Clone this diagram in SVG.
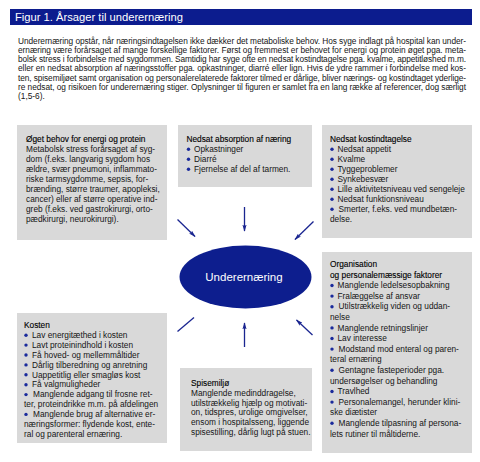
<svg xmlns="http://www.w3.org/2000/svg" width="480" height="462" viewBox="0 0 480 462">
<defs>
<style>
.t{font-family:"Liberation Sans",Arial,sans-serif;font-size:8.3px;fill:#151515}
.h{font-family:"Liberation Sans",Arial,sans-serif;font-size:8.3px;fill:#000;stroke:#000;stroke-width:0.12}
.box{fill:#d9d9d9}
.dot{fill:#1a2a9c}
.arr{stroke:#1a2590;stroke-width:1.3;fill:none}
</style>
<marker id="ah" viewBox="0 0 10 6" refX="9" refY="3" markerWidth="7" markerHeight="4.2" markerUnits="userSpaceOnUse" orient="auto">
<path d="M0,0 L10,3 L0,6 L2,3 z" fill="#1a2590"/>
</marker>
</defs>
<rect width="480" height="462" fill="#fff"/>

<g id="title">
<rect x="10" y="9" width="462" height="16" fill="#0c1c8e"/>
<text x="15" y="21" style="font-family:'Liberation Sans',Arial,sans-serif;font-size:11.2px;fill:#fff">Figur 1. Årsager til underernæring</text>
</g>

<g id="intro" class="t">
<text class="t" x="18" y="43.5" textLength="448">Underernæring opstår, når næringsindtagelsen ikke dækker det metaboliske behov. Hos syge indlagt på hospital kan under-</text>
<text class="t" x="18" y="52.8" textLength="448">ernæring være forårsaget af mange forskellige faktorer. Først og fremmest er behovet for energi og protein øget pga. meta-</text>
<text class="t" x="18" y="62.1" textLength="448">bolsk stress i forbindelse med sygdommen. Samtidig har syge ofte en nedsat kostindtagelse pga. kvalme, appetitløshed m.m.</text>
<text class="t" x="18" y="71.4" textLength="448">eller en nedsat absorption af næringsstoffer pga. opkastninger, diarré eller lign. Hvis de ydre rammer i forbindelse med kos-</text>
<text class="t" x="18" y="80.7" textLength="448">ten, spisemiljøet samt organisation og personalerelaterede faktorer tilmed er dårlige, bliver nærings- og kostindtaget yderlige-</text>
<text class="t" x="18" y="90" textLength="448">re nedsat, og risikoen for underernæring stiger. Oplysninger til figuren er samlet fra en lang række af referencer, dog særligt</text>
<text class="t" x="18" y="99.3">(1,5-6).</text>
</g>

<g id="node-behov">
<rect class="box" x="17" y="125" width="150" height="115"/>
<text class="h" x="26" y="142">Øget behov for energi og protein</text>
<text class="t" x="26" y="152">Metabolsk stress forårsaget af syg-</text>
<text class="t" x="26" y="162">dom (f.eks. langvarig sygdom hos</text>
<text class="t" x="26" y="172">ældre, svær pneumoni, inflammato-</text>
<text class="t" x="26" y="182">riske tarmsygdomme, sepsis, for-</text>
<text class="t" x="26" y="192">brænding, større traumer, apopleksi,</text>
<text class="t" x="26" y="202">cancer) eller af større operative ind-</text>
<text class="t" x="26" y="212">greb (f.eks. ved gastrokirurgi,  orto-</text>
<text class="t" x="26" y="222">pædkirurgi, neurokirurgi).</text>
</g>

<g id="node-absorption">
<rect class="box" x="178" y="125" width="134" height="62"/>
<text class="h" x="186.5" y="142">Nedsat absorption af næring</text>
<circle class="dot" cx="188.5" cy="149.3" r="1.7"/>
<text class="t" x="194" y="152">Opkastninger</text>
<circle class="dot" cx="188.5" cy="159.3" r="1.7"/>
<text class="t" x="194" y="162">Diarré</text>
<circle class="dot" cx="188.5" cy="169.3" r="1.7"/>
<text class="t" x="194" y="172">Fjernelse af del af tarmen.</text>
</g>

<g id="node-kostindtagelse">
<rect class="box" x="322" y="125" width="150" height="113"/>
<text class="h" x="330" y="142">Nedsat kostindtagelse</text>
<circle class="dot" cx="332" cy="149.3" r="1.7"/>
<text class="t" x="337.5" y="152">Nedsat appetit</text>
<circle class="dot" cx="332" cy="159.3" r="1.7"/>
<text class="t" x="337.5" y="162">Kvalme</text>
<circle class="dot" cx="332" cy="169.3" r="1.7"/>
<text class="t" x="337.5" y="172">Tyggeproblemer</text>
<circle class="dot" cx="332" cy="179.3" r="1.7"/>
<text class="t" x="337.5" y="182">Synkebesvær</text>
<circle class="dot" cx="332" cy="189.3" r="1.7"/>
<text class="t" x="337.5" y="192">Lille aktivitetsniveau ved sengeleje</text>
<circle class="dot" cx="332" cy="199.3" r="1.7"/>
<text class="t" x="337.5" y="202">Nedsat funktionsniveau</text>
<circle class="dot" cx="332" cy="209.3" r="1.7"/>
<text class="t" x="338.5" y="212">Smerter, f.eks. ved mundbetæn-</text>
<text class="t" x="330" y="222">delse.</text>
</g>

<g id="node-underernaering">
<ellipse cx="245.5" cy="277" rx="66" ry="31.5" fill="#0d1e8e"/>
<text x="244" y="281" text-anchor="middle" style="font-family:'Liberation Sans',Arial,sans-serif;font-size:11.5px;fill:#fff">Underernæring</text>
</g>

<g id="node-organisation">
<rect class="box" x="322" y="252" width="150" height="201"/>
<text class="h" x="330" y="267">Organisation</text>
<text class="h" x="330" y="277.6">og personalemæssige faktorer</text>
<circle class="dot" cx="332" cy="285.5" r="1.7"/>
<text class="t" x="337.5" y="288.2">Manglende ledelsesopbakning</text>
<circle class="dot" cx="332" cy="296.1" r="1.7"/>
<text class="t" x="337.5" y="298.8">Fralæggelse af ansvar</text>
<circle class="dot" cx="332" cy="306.7" r="1.7"/>
<text class="t" x="338.5" y="309.4">Utilstrækkelig viden og uddan-</text>
<text class="t" x="330" y="320">nelse</text>
<circle class="dot" cx="332" cy="327.9" r="1.7"/>
<text class="t" x="337.5" y="330.6">Manglende retningslinjer</text>
<circle class="dot" cx="332" cy="338.5" r="1.7"/>
<text class="t" x="337.5" y="341.2">Lav interesse</text>
<circle class="dot" cx="332" cy="349.1" r="1.7"/>
<text class="t" x="338.5" y="351.8">Modstand mod enteral og paren-</text>
<text class="t" x="330" y="362.4">teral ernæring</text>
<circle class="dot" cx="332" cy="370.3" r="1.7"/>
<text class="t" x="338.5" y="373">Gentagne fasteperioder pga.</text>
<text class="t" x="330" y="383.6">undersøgelser og behandling</text>
<circle class="dot" cx="332" cy="391.5" r="1.7"/>
<text class="t" x="337.5" y="394.2">Travlhed</text>
<circle class="dot" cx="332" cy="402.1" r="1.7"/>
<text class="t" x="338.5" y="404.8">Personalemangel, herunder klini-</text>
<text class="t" x="330" y="415.4">ske diætister</text>
<circle class="dot" cx="332" cy="423.3" r="1.7"/>
<text class="t" x="338.5" y="426">Manglende tilpasning af persona-</text>
<text class="t" x="330" y="436.6">lets rutiner til måltiderne.</text>
</g>

<g id="node-kosten">
<rect class="box" x="17" y="313" width="150" height="130"/>
<text class="h" x="24" y="328">Kosten</text>
<circle class="dot" cx="26" cy="335.2" r="1.7"/>
<text class="t" x="32" y="337.9">Lav energitæthed i kosten</text>
<circle class="dot" cx="26" cy="345.1" r="1.7"/>
<text class="t" x="32" y="347.8">Lavt proteinindhold i kosten</text>
<circle class="dot" cx="26" cy="355" r="1.7"/>
<text class="t" x="32" y="357.7">Få hoved- og mellemmåltider</text>
<circle class="dot" cx="26" cy="364.9" r="1.7"/>
<text class="t" x="32" y="367.6">Dårlig tilberedning og anretning</text>
<circle class="dot" cx="26" cy="374.8" r="1.7"/>
<text class="t" x="32" y="377.5">Uappetitlig eller smagløs kost</text>
<circle class="dot" cx="26" cy="384.7" r="1.7"/>
<text class="t" x="32" y="387.4">Få valgmuligheder</text>
<circle class="dot" cx="26" cy="394.6" r="1.7"/>
<text class="t" x="33" y="397.3">Manglende adgang til frosne ret-</text>
<text class="t" x="24" y="407.2">ter, proteindrikke m.m. på afdelingen</text>
<circle class="dot" cx="26" cy="414.4" r="1.7"/>
<text class="t" x="33" y="417.1">Manglende brug af alternative er-</text>
<text class="t" x="24" y="427">næringsformer: flydende kost, ente-</text>
<text class="t" x="24" y="436.9">ral og parenteral ernæring.</text>
</g>

<g id="node-spisemiljo">
<rect class="box" x="180" y="368" width="132" height="83"/>
<text class="h" x="191" y="386">Spisemiljø</text>
<text class="t" x="191" y="395.8">Manglende medinddragelse,</text>
<text class="t" x="191" y="405.6">utilstrækkelig hjælp og motivati-</text>
<text class="t" x="191" y="415.4">on, tidspres, urolige omgivelser,</text>
<text class="t" x="191" y="425.2">ensom i hospitalsseng, liggende</text>
<text class="t" x="191" y="435">spisestilling, dårlig lugt på stuen.</text>
</g>

<g id="connectors">
<line class="arr" x1="177.5" y1="219.5" x2="195" y2="236.5" marker-end="url(#ah)"/>
<line class="arr" x1="244.5" y1="207" x2="244.5" y2="231" marker-end="url(#ah)"/>
<line class="arr" x1="313.5" y1="221.5" x2="295" y2="239.5" marker-end="url(#ah)"/>
<line class="arr" x1="177.5" y1="331.5" x2="194" y2="317.5"/>
<line class="arr" x1="244.5" y1="347" x2="244.5" y2="323" marker-end="url(#ah)"/>
<line class="arr" x1="312.5" y1="335" x2="296.5" y2="320" marker-end="url(#ah)"/>
</g>
</svg>
